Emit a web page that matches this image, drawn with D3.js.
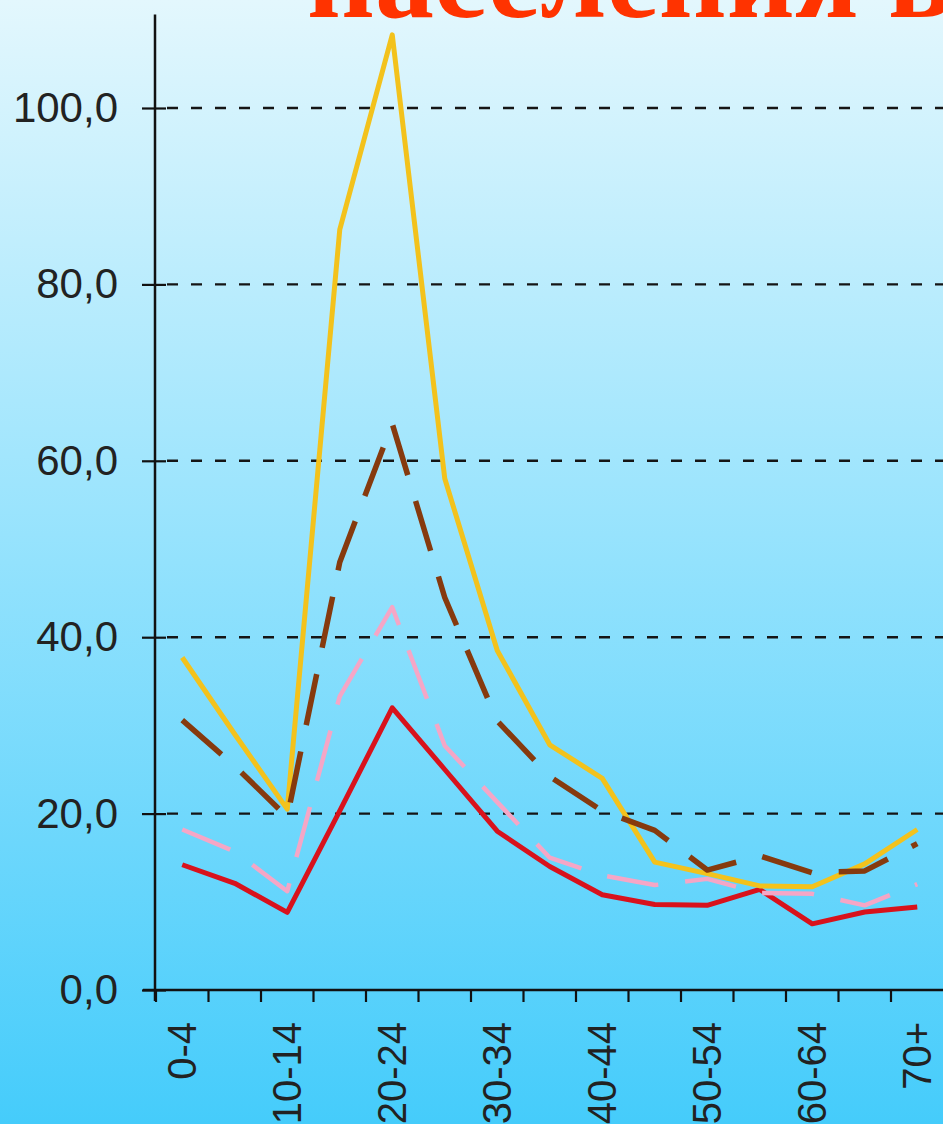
<!DOCTYPE html>
<html>
<head>
<meta charset="utf-8">
<script src="https://cdn.jsdelivr.net/npm/d3@7"></script>
<style>
  html, body { margin: 0; padding: 0; overflow: hidden; }
  svg { display: block; }
</style>
</head>
<body>
<svg id="chart" width="943" height="1124"></svg>
<script>
// ---- data ----
const categories = ['0-4','5-9','10-14','15-19','20-24','25-29','30-34','35-39','40-44','45-49','50-54','55-59','60-64','65-69','70+'];
const seriesYellow = [37.7, 29.0, 20.5, 86.2, 108.3, 58.0, 38.5, 27.8, 24.0, 14.5, 13.2, 11.8, 11.7, 14.3, 18.2];
const seriesBrown  = [30.6, 25.4, 19.6, 48.5, 64.2, 44.5, 30.5, 24.2, 20.3, 18.1, 13.6, 15.2, 13.3, 13.5, 16.6];
const seriesPink   = [18.2, 15.7, 11.2, 33.3, 43.4, 27.7, 21.3, 15.0, 13.0, 11.9, 12.6, 11.0, 10.9, 9.6, 12.0];
const seriesRed    = [14.2, 12.1, 8.8, 20.3, 32.0, 25.0, 18.0, 14.0, 10.8, 9.7, 9.6, 11.4, 7.5, 8.85, 9.4];
const yTicks = [0, 20, 40, 60, 80, 100];
const yTickLabels = ['0,0', '20,0', '40,0', '60,0', '80,0', '100,0'];
const titleText = 'населения в';

// ---- layout ----
const W = 943, H = 1124;
const svg = d3.select('#chart');

const defs = svg.append('defs');
const grad = defs.append('linearGradient').attr('id', 'bg').attr('x1', 0).attr('y1', 0).attr('x2', 0).attr('y2', 1);
grad.append('stop').attr('offset', '0%').attr('stop-color', '#e3f7fd');
grad.append('stop').attr('offset', '50%').attr('stop-color', '#93e2fd');
grad.append('stop').attr('offset', '100%').attr('stop-color', '#45ccfb');
svg.append('rect').attr('width', W).attr('height', H).attr('fill', 'url(#bg)');

const axisX = 155;
const x = d3.scaleBand().domain(categories).range([156, 943.5]).paddingInner(0).paddingOuter(0);
const y = d3.scaleLinear().domain([0, 100]).range([990, 108]);
const cx = c => x(c) + x.bandwidth() / 2;

// title (cut at top, as in the reference)
svg.append('text')
  .attr('x', 307).attr('y', 17)
  .attr('font-family', '"Liberation Serif", "Times New Roman", serif')
  .attr('font-weight', 'bold')
  .attr('font-size', 118)
  .attr('fill', '#ff3300')
  .text(titleText);

// gridlines
svg.append('g').selectAll('line').data(yTicks.filter(v => v > 0)).join('line')
  .attr('x1', axisX + 12).attr('x2', W)
  .attr('y1', d => y(d)).attr('y2', d => y(d))
  .attr('stroke', '#151515').attr('stroke-width', 2.4)
  .attr('stroke-dasharray', '11,13');

// y axis
const yAxis = d3.axisLeft(y).tickValues(yTicks)
  .tickFormat((d, i) => yTickLabels[i]).tickSize(13).tickPadding(24);
const gy = svg.append('g').attr('transform', `translate(${axisX},0)`).call(yAxis);
gy.select('.domain').remove();
gy.selectAll('.tick line').attr('x1', 11).attr('x2', -13).attr('stroke', '#111').attr('stroke-width', 2.2);
gy.selectAll('.tick text')
  .attr('font-family', '"Liberation Sans", Arial, sans-serif')
  .attr('font-size', 42).attr('fill', '#222');
svg.append('line').attr('x1', axisX).attr('x2', axisX)
  .attr('y1', y(110.6)).attr('y2', 1001)
  .attr('stroke', '#111').attr('stroke-width', 2.5);

// x axis
const xAxis = d3.axisBottom(x).tickSize(0).tickPadding(0)
  .tickFormat((d, i) => i % 2 === 0 ? d : '');
const gx = svg.append('g').attr('transform', 'translate(0,990)').call(xAxis);
gx.select('.domain').remove();
gx.selectAll('.tick text')
  .attr('font-family', '"Liberation Sans", Arial, sans-serif')
  .attr('font-size', 40).attr('fill', '#222')
  .attr('text-anchor', 'end')
  .attr('dominant-baseline', 'central')
  .attr('dy', null)
  .attr('y', 0)
  .attr('transform', 'translate(0,32) rotate(-90)');
svg.append('line').attr('x1', 143).attr('x2', W).attr('y1', 990).attr('y2', 990)
  .attr('stroke', '#111').attr('stroke-width', 2.5);
svg.append('g').selectAll('line').data(categories).join('line')
  .attr('x1', d => x(d)).attr('x2', d => x(d))
  .attr('y1', 990).attr('y2', 1002)
  .attr('stroke', '#111').attr('stroke-width', 2.2);

// lines
const line = d3.line().x((d, i) => cx(categories[i])).y(d => y(d));
const series = [
  { data: seriesRed,    color: '#d8121c', width: 5,   dash: null },
  { data: seriesPink,   color: '#f5a6c6', width: 4.5, dash: '52,27' },
  { data: seriesYellow, color: '#f3c21c', width: 5,   dash: null },
  { data: seriesBrown,  color: '#863a0e', width: 5.5, dash: '52,27' }
];
svg.append('g').selectAll('path').data(series).join('path')
  .attr('d', s => line(s.data))
  .attr('fill', 'none')
  .attr('stroke', s => s.color)
  .attr('stroke-width', s => s.width)
  .attr('stroke-linejoin', 'round')
  .attr('stroke-dasharray', s => s.dash);
</script>
</body>
</html>
